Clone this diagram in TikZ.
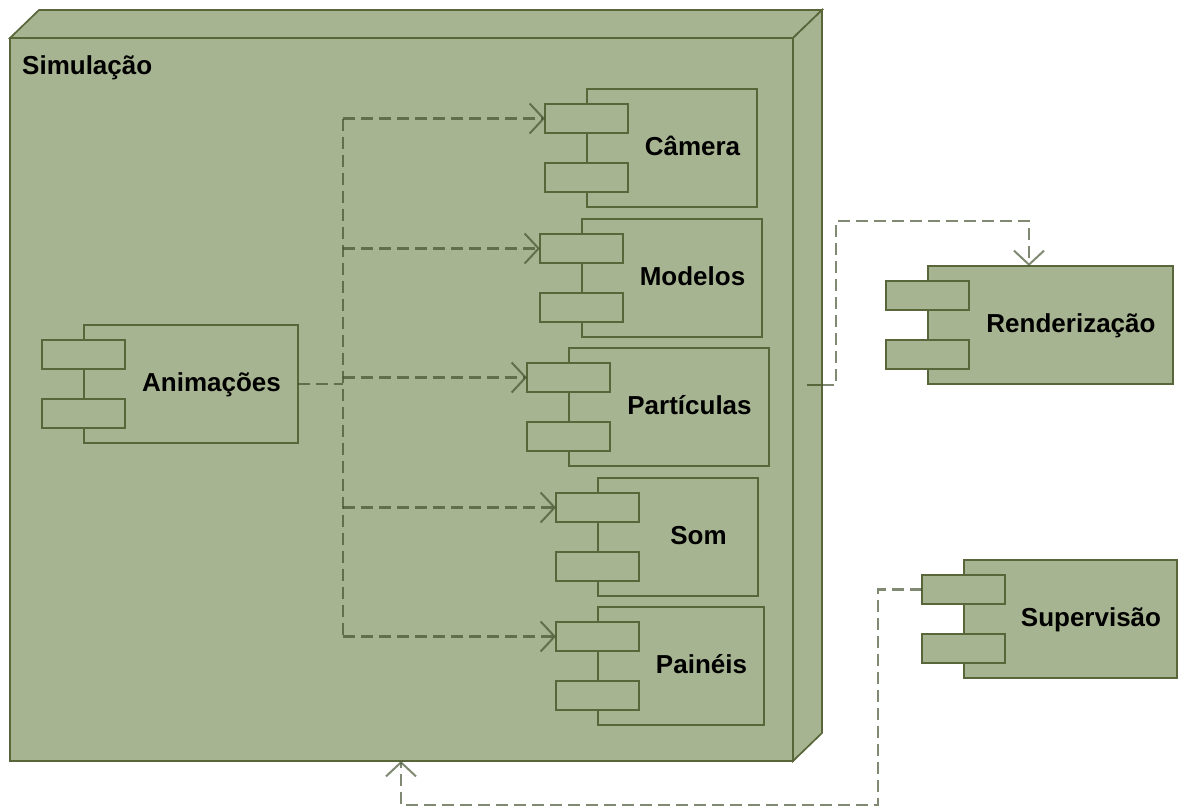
\documentclass[tikz,border=0pt]{standalone}
\usepackage{fontspec}
\setmainfont{Liberation Sans}
\usetikzlibrary{arrows.meta}
\definecolor{fillg}{RGB}{167,180,145}
\definecolor{edgec}{RGB}{88,102,58}
\definecolor{depc}{RGB}{60,75,40}
\tikzset{
  box/.style={draw=edgec, fill=fillg, line width=1.4pt, inner sep=0pt, outer sep=0pt, anchor=north west},
  face/.style={draw=edgec, fill=fillg, line width=1.7pt, line join=miter},
  lbl/.style={font=\fontsize{26}{31}\selectfont\bfseries, inner sep=0pt, anchor=base},
  depline/.style={draw=depc, draw opacity=0.65, line width=2.5pt, dash pattern=on 12pt off 6pt},
  deparrow/.style={depline, -{Straight Barb[length=14pt,width=30pt,line width=2pt]}},
}
\newcommand\comp[5]{%
  \node[box, minimum width={#4-#2}, minimum height=118] (#1) at (#2,#3) {};
  \node[box, minimum width=83, minimum height=29] (#1-p1) at (#2-42,#3+15) {};
  \node[box, minimum width=83, minimum height=29] (#1-p2) at (#2-42,#3+74) {};
  \node[lbl] (#1-t) at ({(#2+41+#4)/2},#3+66) {#5};
}
\begin{document}
\begin{tikzpicture}[x=1pt,y=-1pt]
\useasboundingbox (0,0) rectangle (1179,807);
% outer node
\node[box, line width=1.7pt, minimum width=783, minimum height=723] (sim) at (10,38) {};
\filldraw[face] (sim.north west) -- ++(29,-28) -- ([shift={(29,-28)}]sim.north east) -- (sim.north east) -- cycle;
\filldraw[face] (sim.north east) -- ++(29,-28) -- ([shift={(29,-28)}]sim.south east) -- (sim.south east) -- cycle;
\node[lbl, anchor=base west] (simt) at (22,74) {Simulação};
% components
\comp{cam}{587}{89}{757}{Câmera}
\comp{mod}{582}{219}{762}{Modelos}
\comp{par}{569}{348}{769}{Partículas}
\comp{som}{598}{478}{758}{Som}
\comp{pai}{598}{607}{764}{Painéis}
\comp{ani}{84}{325}{298}{Animações}
\comp{ren}{928}{266}{1173}{Renderização}
\comp{sup}{964}{560}{1177}{Supervisão}
% inner dependencies
\coordinate (bus) at (343,0);
\draw[depline] (ani.east) -- (ani.east -| bus);
\draw[depline] (cam-p1.west -| bus) -- (pai-p1.west -| bus);
\draw[deparrow] (cam-p1.west -| bus) -- (cam-p1.west);
\draw[deparrow] (mod-p1.west -| bus) -- (mod-p1.west);
\draw[deparrow] (par-p1.west -| bus) -- (par-p1.west);
\draw[deparrow] (som-p1.west -| bus) -- (som-p1.west);
\draw[deparrow] (pai-p1.west -| bus) -- (pai-p1.west);
% Simulacao -> Renderizacao
\coordinate (rs) at (807,385);
\coordinate (simr) at (822,385);
\coordinate (rentop) at (1029,266);
\draw[edgec, line width=1.4pt] (rs) -- (simr);
\draw[deparrow] (simr) -| (836,221) -| (rentop);
% Supervisao -> Simulacao
\coordinate (simb) at (401,761);
\draw[deparrow] (sup-p1.west) -| (878,805) -| (simb);
\end{tikzpicture}
\end{document}
